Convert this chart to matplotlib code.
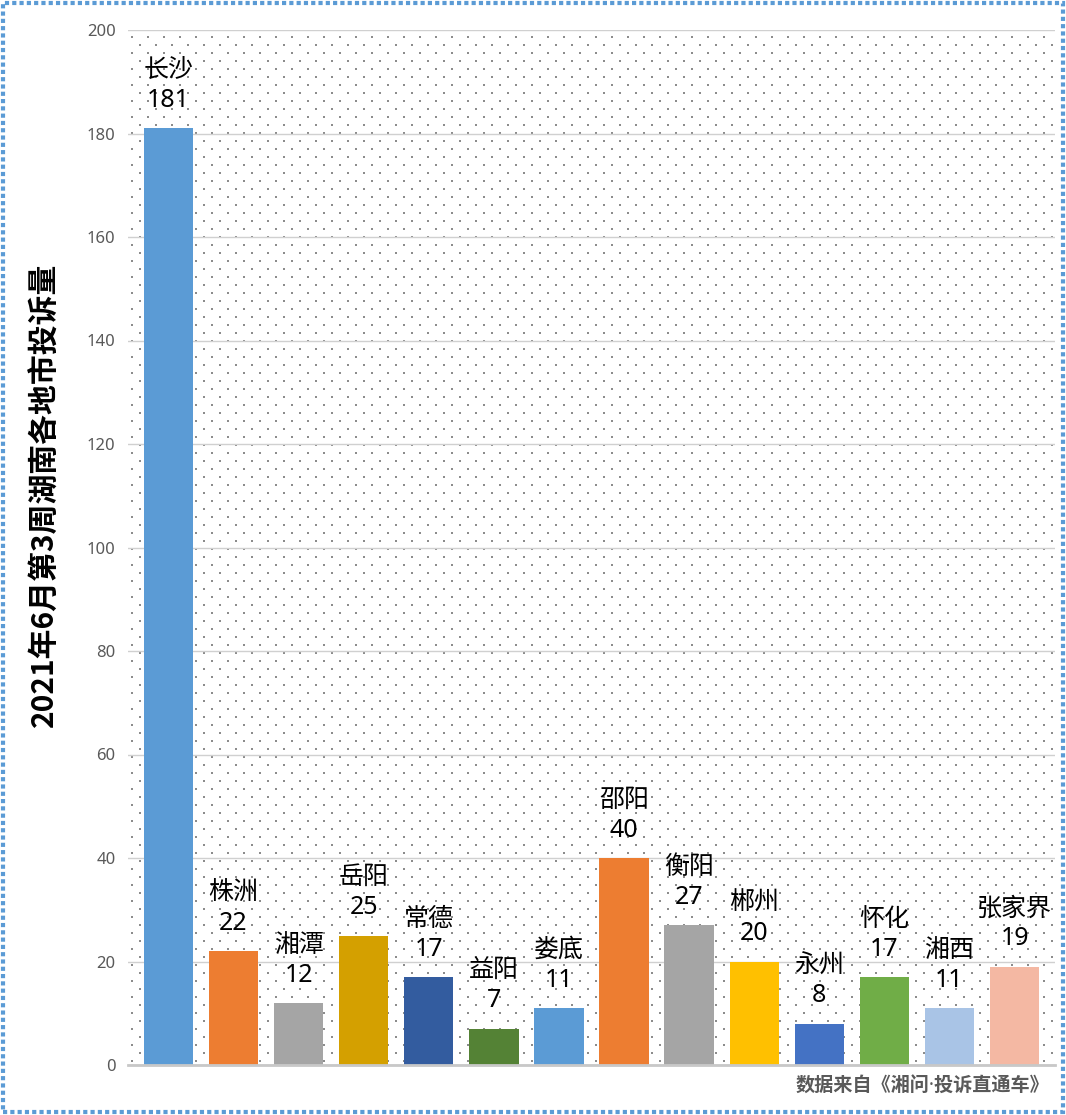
import numpy as np
import matplotlib.pyplot as plt
from matplotlib.patches import Rectangle

plt.rcParams['font.family'] = ['Noto Sans CJK SC', 'DejaVu Sans']

cities = ["长沙", "株洲", "湘潭", "岳阳", "常德", "益阳", "娄底",
          "邵阳", "衡阳", "郴州", "永州", "怀化", "湘西", "张家界"]
counts = [181, 22, 12, 25, 17, 7, 11, 40, 27, 20, 8, 17, 11, 19]
bar_colors = ["#5B9BD5", "#ED7D31", "#A5A5A5", "#D4A000", "#335C9F",
              "#548235", "#5B9BD5", "#ED7D31", "#A5A5A5", "#FFC000",
              "#4472C4", "#70AD47", "#A9C4E6", "#F4B8A3"]
y_ticks = [0, 20, 40, 60, 80, 100, 120, 140, 160, 180, 200]

W, H = 1066, 1115
fig = plt.figure(figsize=(W / 100, H / 100), dpi=100)
ax_l, ax_r, ax_t, ax_b = 128, 1055, 30, 1065
ax = fig.add_axes([ax_l / W, 1 - ax_b / H, (ax_r - ax_l) / W, (ax_b - ax_t) / H])

# dotted background pattern
pw, ph = ax_r - ax_l, ax_b - ax_t
xs, ys = [], []
for i, px in enumerate(np.arange(4, pw, 8)):
    off = 0 if i % 2 == 0 else 8
    for py in np.arange(4 + off, ph, 16):
        xs.append(px / pw)
        ys.append(py / ph)
ax.scatter(xs, ys, s=2.0, color="#8C8C8C", marker="s", linewidths=0,
           transform=ax.transAxes, zorder=0)

x = np.arange(len(cities))
ax.bar(x, counts, width=0.76, color=bar_colors, zorder=3)

for xi, name, v in zip(x, cities, counts):
    ax.annotate(str(v), (xi, v), xytext=(0, 20), textcoords="offset points",
                ha="center", va="center", fontsize=18, color="black",
                family=["Noto Sans", "DejaVu Sans"], zorder=4)
    ax.annotate(name, (xi, v), xytext=(0, 42), textcoords="offset points",
                ha="center", va="center", fontsize=18, color="black", zorder=4)

ax.set_xlim(-0.62, len(cities) - 1 + 0.62)
ax.set_ylim(0, 200)
ax.set_yticks(y_ticks)
ax.set_xticks([])
ax.tick_params(axis="y", length=0, labelsize=12, labelcolor="#595959", pad=9)
for lab in ax.get_yticklabels():
    lab.set_family(["Noto Sans", "DejaVu Sans"])
ax.grid(axis="y", color="#D0D0D0", linewidth=1, zorder=1)
for s in ["top", "right", "left"]:
    ax.spines[s].set_visible(False)
ax.spines["bottom"].set_color("#C8C8C8")
ax.spines["bottom"].set_linewidth(2)
ax.spines["bottom"].set_zorder(5)

fig.text(45 / W, 1 - 495 / H, "2021年6月第3周湖南各地市投诉量", rotation=90,
         ha="center", va="center", fontsize=21.5, fontweight="bold", color="black")
fig.text(1049 / W, 1 - 1087 / H, "数据来自《湘问·投诉直通车》", ha="right", va="center",
         fontsize=13.8, fontweight="bold", color="#595959",
         family=["Noto Sans", "Noto Sans CJK SC"])

fig.patches.append(Rectangle((3 / W, 3 / H), 1 - 6 / W, 1 - 6 / H, transform=fig.transFigure,
                             fill=False, edgecolor="#5B9BD5", linewidth=3,
                             linestyle=(0, (1.0, 0.75))))

fig.savefig("out.png", dpi=100)
